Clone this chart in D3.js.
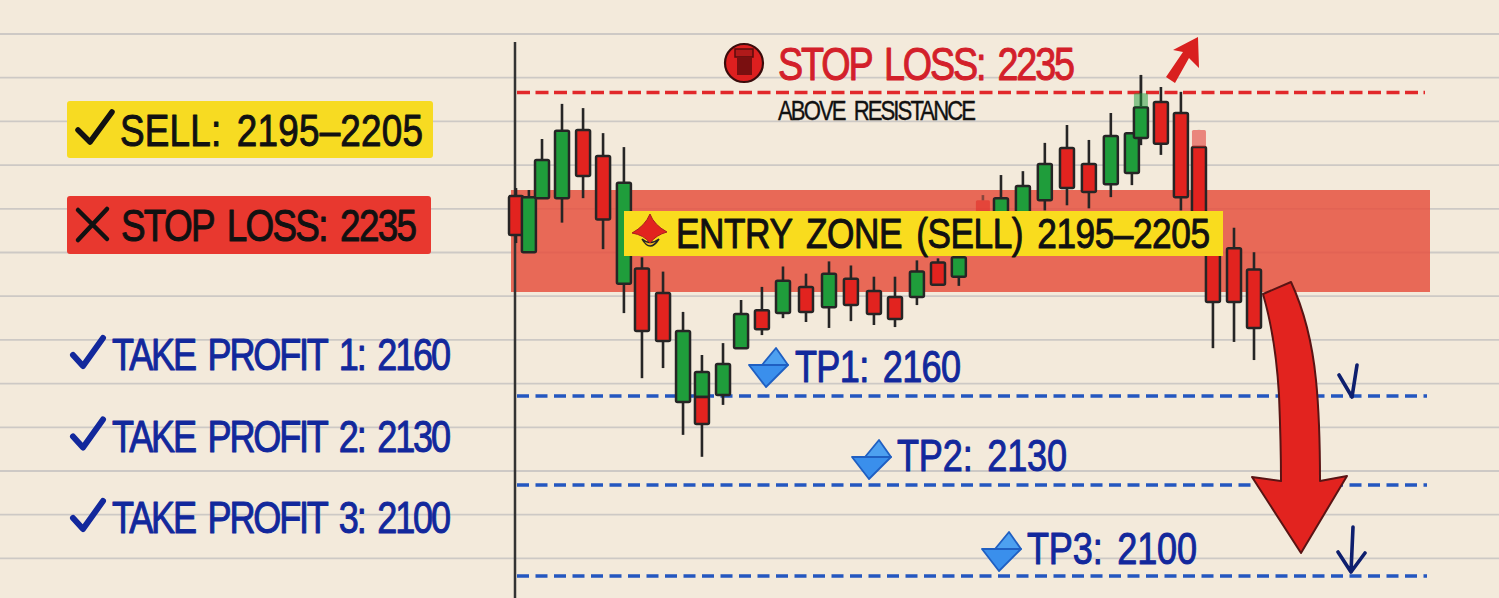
<!DOCTYPE html>
<html>
<head>
<meta charset="utf-8">
<script src="https://cdn.jsdelivr.net/npm/d3@7"></script>
<style>
html,body{margin:0;padding:0;background:#f3eadb;overflow:hidden}
svg{display:block}
text{font-family:"Liberation Sans Narrow","Liberation Sans",sans-serif;stroke-linejoin:round;word-spacing:6px}
</style>
</head>
<body>
<svg id="chart" width="1499" height="598"></svg>
<script>
// ---- chart values (prices) ----
const candleTimes = [0,.6,1.21,2.14,3.12,4.05,5.02,5.86,6.84,7.77,8.65,8.65,9.63,10.47,11.44,12.42,13.49,14.56,15.58,16.65,17.63,18.65,19.63,20.6,21.72,22.56,23.58,24.6,25.63,26.65,27.67,28.65,29.07,29.07,30,30.93,31.77,31.77,32.42,33.4,34.33];
const candleOpen  = [2204.4,2198.9,2204.2,2204.2,2223.5,2215.5,2195.8,2197.3,2194.7,2158,2159.7,2159.7,2160.3,2176.1,2188.9,2187.9,2195.5,2189.9,2196.3,2195.1,2193.3,2193.3,2197.9,2196.5,2204,2200.1,2200.1,2204,2217.9,2213,2206.8,2210.2,2221,2230.5,2232.1,2228.7,2218.2,2223.5,2200.1,2199.3,2197.2];
const candleClose = [2200.6,2204.3,2214.2,2223.2,2209.3,2202.1,2207.2,2181.9,2178.5,2181.9,2168.1,2150.6,2170.8,2187.6,2182.5,2196.1,2188.3,2196.8,2190.6,2187.6,2185.9,2197,2195.7,2198.4,2200.6,2204.2,2206.2,2213,2205.6,2204.8,2221.6,2222.5,2230.5,2234.8,2219.2,2204.3,2201.6,2218.2,2191.6,2191.6,2182.9];
const candleHigh  = [2205.6,2205,2220.7,2231.5,2230.2,2222.5,2218.2,2198.4,2197,2188.3,2173.8,2159.7,2177.8,2192.3,2195.5,2197.5,2196.8,2198,2197.6,2196.5,2196.5,2198.1,2198.3,2200.1,2204.5,2209.6,2210.8,2219.5,2225,2220.4,2228.7,2222.8,2240.4,2240.4,2236.7,2235.2,2218.2,2223.5,2200.1,2201.3,2198.9];
const candleLow   = [2199.8,2198.9,2204.2,2201.8,2204.2,2199.2,2187.9,2166,2169.4,2146.9,2159.7,2139.5,2157,2176.1,2180.5,2186.2,2184.9,2182.9,2185.2,2183.9,2183.2,2190.6,2195.7,2195.6,2200.1,2200.1,2200.1,2203,2203.5,2203.2,2204.3,2206.5,2218.8,2230.5,2215.8,2203,2201.6,2218.2,2176.1,2178.2,2172.1];
const fadedCandles = [24,33,37];

const priceStops = [2235,2205,2195,2160,2130,2100];
const takeProfits = [2160,2130,2100];
const stopLoss = 2235;
const entryZone = [2205,2195];

const noteLabels = ["SELL: 2195–2205","STOP LOSS: 2235","TAKE PROFIT 1: 2160","TAKE PROFIT 2: 2130","TAKE PROFIT 3: 2100"];
const tpLabels = ["TP1: 2160","TP2: 2130","TP3: 2100"];
const entryLabel = "ENTRY ZONE (SELL) 2195–2205";
const stopLabel = "STOP LOSS: 2235";
const stopNote = "ABOVE RESISTANCE";

// ---- scales ----
const x = d3.scaleLinear().domain([0,34.33]).range([516,1254]);
const y = d3.scaleLinear().domain(priceStops).range([92.5,190,292,396,485,576]);

const svg = d3.select("#chart");
const ink="#262525", red="#e2231f", green="#1f9d3b", navy="#12289c", lineBlue="#2457c0";

// paper
svg.append("rect").attr("width",1499).attr("height",598).attr("fill","#f3eadb");
svg.append("g").selectAll("line").data(d3.range(13)).join("line")
  .attr("x1",0).attr("x2",1499)
  .attr("y1",i=>34+i*43.7).attr("y2",i=>34+i*43.7)
  .attr("stroke","#cdc9c5").attr("stroke-width",1.8);

// entry zone
svg.append("rect").attr("x",511).attr("width",919)
  .attr("y",y(entryZone[0])).attr("height",y(entryZone[1])-y(entryZone[0]))
  .attr("fill","#e6503e").attr("fill-opacity",.84);

// axis
svg.append("line").attr("x1",515).attr("x2",515).attr("y1",42).attr("y2",598)
  .attr("stroke","#333").attr("stroke-width",2.5);

// levels
svg.append("line").attr("x1",517).attr("x2",1425).attr("y1",y(stopLoss)).attr("y2",y(stopLoss))
  .attr("stroke","#e1282a").attr("stroke-width",3.6).attr("stroke-dasharray","13 5.5");
svg.append("g").selectAll("line").data(takeProfits).join("line")
  .attr("x1",517).attr("x2",1427).attr("y1",d=>y(d)).attr("y2",d=>y(d))
  .attr("stroke",lineBlue).attr("stroke-width",3.4).attr("stroke-dasharray","12 6.5");

// candles
const candles = candleTimes.map((t,i)=>({t,o:candleOpen[i],c:candleClose[i],h:candleHigh[i],l:candleLow[i],faded:fadedCandles.includes(i)}));
const cg = svg.append("g").selectAll("g").data(candles).join("g").attr("opacity",d=>d.faded?.5:1);
cg.append("line").attr("x1",d=>x(d.t)).attr("x2",d=>x(d.t))
  .attr("y1",d=>y(d.h)).attr("y2",d=>y(d.l))
  .attr("stroke",ink).attr("stroke-width",2.6);
cg.append("rect").attr("x",d=>x(d.t)-7).attr("width",14)
  .attr("y",d=>y(Math.max(d.o,d.c))).attr("height",d=>Math.abs(y(d.o)-y(d.c)))
  .attr("rx",1.5)
  .attr("fill",d=>d.c>d.o?green:red).attr("stroke",d=>d.faded?"none":ink).attr("stroke-width",2.5);

// fitted text: narrowed glyphs with open letter spacing, like the hand lettering
const squeeze = .82;
function label(str,x0,x1,base,size,fill,sw){
  return svg.append("text").attr("transform",`translate(${x0},${base}) scale(${squeeze},1)`).text(str)
    .attr("font-size",size).attr("fill",fill).attr("stroke",fill).attr("stroke-width",sw)
    .attr("textLength",(x1-x0)/squeeze).attr("lengthAdjust","spacing");
}

// entry label
svg.append("rect").attr("x",624).attr("y",211).attr("width",599).attr("height",45).attr("fill","#f9dc1e");
const ei = svg.append("g").attr("transform","translate(650,232)");
ei.append("path").attr("d","M-8,7 Q0,21 9,7 Q0,14 -8,7Z").attr("fill","#f4b81d").attr("stroke",ink).attr("stroke-width",1.5);
ei.append("path").attr("d","M0,-18 Q4,-7 17,0 Q6,3 0,11 Q-6,3 -18,1 Q-5,-6 0,-18Z").attr("fill",red).attr("stroke","#a81e1e").attr("stroke-width",1);
label(entryLabel,676,1210,248,43,"#111",1);

// left notes
svg.append("rect").attr("x",67).attr("y",101).attr("width",366).attr("height",57).attr("rx",3).attr("fill","#f7db22");
svg.append("rect").attr("x",67).attr("y",196).attr("width",364).attr("height",58).attr("rx",3).attr("fill","#e8382f");
const pen = d3.line();
svg.append("path").attr("d",pen([[78,130],[90,142],[112,112]])).attr("fill","none").attr("stroke","#111").attr("stroke-width",5.5).attr("stroke-linecap","round").attr("stroke-linejoin","round");
svg.append("path").attr("d","M78,210L107,239M107,209L78,240").attr("fill","none").attr("stroke","#111").attr("stroke-width",4.5).attr("stroke-linecap","round");
label(noteLabels[0],120,423,146,45,"#111",1);
label(noteLabels[1],121,417,241,45,"#111",1);
[0,1,2].forEach(i=>{
  const dy=i*81.5;
  svg.append("path").attr("d",pen([[73,355+dy],[83,366+dy],[103,338+dy]])).attr("fill","none").attr("stroke",navy).attr("stroke-width",6).attr("stroke-linecap","round").attr("stroke-linejoin","round");
  label(noteLabels[2+i],112,451,370+dy,44,navy,1);
});

// stop labels
const si = svg.append("g").attr("transform","translate(744,63)");
si.append("circle").attr("r",19).attr("fill","#dd1f1f").attr("stroke","#3a0c0c").attr("stroke-width",2.2);
si.append("path").attr("d","M-7,-5H8V12H-7Z").attr("fill","#7a0f10");
si.append("path").attr("d","M-9,-14H9V-6H-9Z").attr("fill","#b01a1a").attr("stroke","#5a0c0c").attr("stroke-width",1.5);
label(stopLabel,778,1075,80,46,"#d3202a",1);
label(stopNote,778,976,120,27,"#111",.4);

// TP labels
const tpBox = [[795,961,382,767,364],[897,1067,471,870,456],[1027,1197,564,1000,548]];
tpLabels.forEach((s,i)=>{
  const b=tpBox[i];
  const g=svg.append("g").attr("transform",`translate(${b[3]},${b[4]})`);
  g.append("path").attr("d","M-18,1L21,1L-1,23Z").attr("fill","#3a8fec").attr("stroke","#1f5fc2").attr("stroke-width",1.8).attr("stroke-linejoin","round");
  g.append("path").attr("d","M-5,1L9,-16L21,1Z").attr("fill","#4da0f0").attr("stroke","#1f5fc2").attr("stroke-width",1.8).attr("stroke-linejoin","round");
  label(s,b[0],b[1],b[2],44,navy,1);
});

// arrows
svg.append("path").attr("d","M1198,37L1199,68L1189,58L1175,83L1166,77L1183,52L1173,50Z").attr("fill","#d9201f");
svg.append("path")
  .attr("d","M1263,294L1291,282C1304,310 1312,340 1316,380C1319,410 1320,450 1320,481L1347,476L1301,553L1252,477L1281,481C1281,450 1280,420 1279,395C1277,360 1272,325 1263,294Z")
  .attr("fill","#e2231f").attr("stroke","#5a1414").attr("stroke-width",2).attr("stroke-linejoin","round");
svg.append("path").attr("d","M1357,365L1352,397M1339,375L1352,397M1353,527L1351,572M1338,552L1351,572M1365,553L1351,572")
  .attr("fill","none").attr("stroke","#0e1f6e").attr("stroke-width",3.6).attr("stroke-linecap","round");
</script>
</body>
</html>
